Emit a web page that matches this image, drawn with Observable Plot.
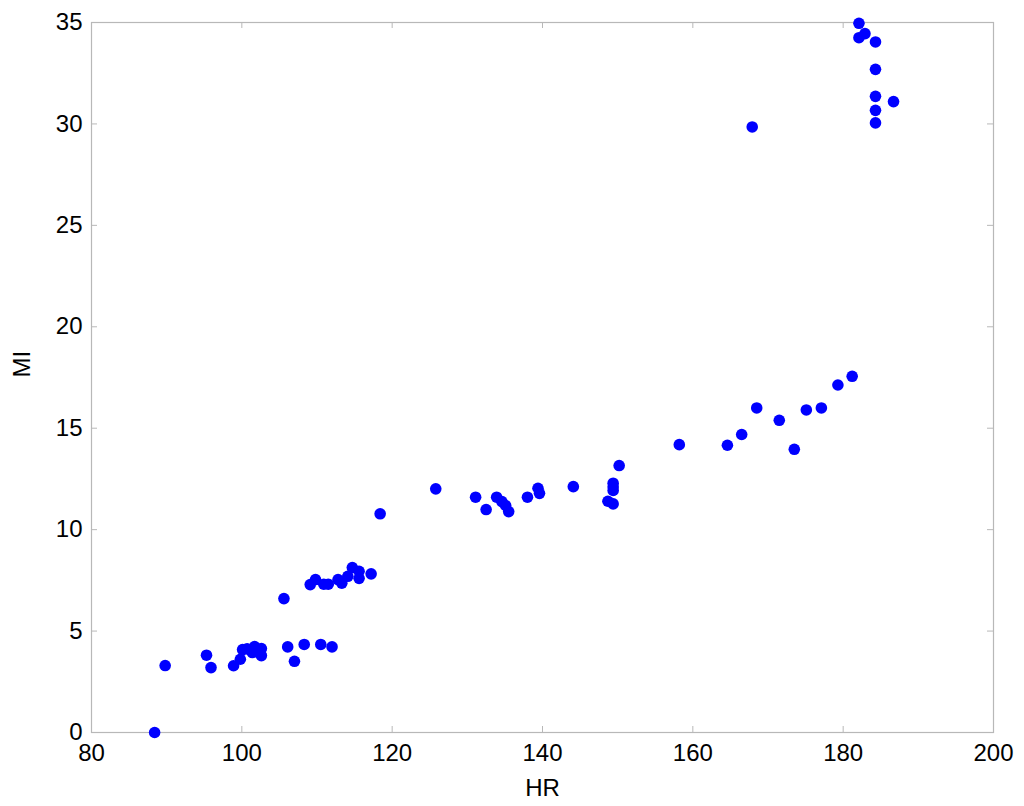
<!DOCTYPE html>
<html>
<head>
<meta charset="utf-8">
<script src="https://cdn.jsdelivr.net/npm/d3@7"></script>
<script src="https://cdn.jsdelivr.net/npm/@observablehq/plot@0.6"></script>
<style>
  html, body { margin: 0; padding: 0; background: #fff; }
  #chart { width: 1024px; height: 806px; }
</style>
</head>
<body>
<div id="chart"></div>
<script>
const hr = [
  88.4, 89.8, 95.3, 95.9, 98.9, 99.8, 100.1, 100.7, 101.7, 101.4, 102.0, 102.6, 102.6,
  106.1, 107.0, 108.3, 110.5, 112.0,
  105.6, 109.1, 109.8, 110.9, 111.5, 112.8, 113.3, 114.1, 114.7, 115.6, 115.6, 117.2,
  118.4, 125.8, 131.1, 132.5, 133.9, 134.6, 135.1, 135.5, 138.0, 139.4, 139.6, 144.1,
  148.7, 149.4, 149.4, 149.4, 149.4, 150.2,
  158.2, 164.6, 166.5, 168.5, 171.5, 173.5, 175.1, 177.1, 179.3, 181.2,
  167.9, 182.1, 182.1, 182.9, 184.3, 184.3, 184.3, 186.7, 184.3, 184.3
];
const mi = [
  0.0, 3.30, 3.81, 3.20, 3.29, 3.61, 4.09, 4.12, 4.24, 3.94, 4.05, 4.14, 3.79,
  4.22, 3.51, 4.34, 4.34, 4.22,
  6.60, 7.29, 7.54, 7.31, 7.31, 7.54, 7.36, 7.70, 8.13, 7.95, 7.60, 7.82,
  10.78, 12.01, 11.60, 10.99, 11.60, 11.38, 11.19, 10.89, 11.60, 12.04, 11.79, 12.12,
  11.40, 11.27, 12.29, 12.10, 11.93, 13.16,
  14.19, 14.16, 14.69, 16.00, 15.39, 13.96, 15.90, 16.00, 17.13, 17.56,
  29.85, 34.96, 34.25, 34.45, 34.04, 32.69, 31.36, 31.10, 30.67, 30.05
];
const xTicks = [80, 100, 120, 140, 160, 180, 200];
const yTicks = [0, 5, 10, 15, 20, 25, 30, 35];

const data = hr.map((h, i) => ({HR: h, MI: mi[i]}));
const gray = "#b8b8b8";

const chart = Plot.plot({
  width: 1024,
  height: 806,
  marginLeft: 91,
  marginRight: 31,
  marginTop: 22,
  marginBottom: 74,
  style: {fontFamily: "Liberation Sans, Arial, sans-serif", fontSize: "24px", color: "#000", background: "#fff"},
  x: {domain: [80, 200]},
  y: {domain: [0, 35]},
  marks: [
    Plot.frame({stroke: gray, strokeWidth: 1.2}),
    Plot.tickX(xTicks, {x: d => d, stroke: gray, insetTop: 704}),
    Plot.tickX(xTicks, {x: d => d, stroke: gray, insetBottom: 704}),
    Plot.tickY(yTicks, {y: d => d, stroke: gray, insetRight: 896}),
    Plot.tickY(yTicks, {y: d => d, stroke: gray, insetLeft: 896}),
    Plot.axisX(xTicks, {tickSize: 0, tickPadding: 11, fontSize: 24, label: null}),
    Plot.axisY(yTicks, {tickSize: 0, tickPadding: 9, fontSize: 24, label: null}),
    Plot.text(["HR"], {frameAnchor: "bottom", dy: 63, fontSize: 24}),
    Plot.text(["MI"], {frameAnchor: "left", dx: -69, rotate: -90, fontSize: 24}),
    Plot.dot(data, {x: "HR", y: "MI", r: 5.8, fill: "#0000ff", stroke: "none"})
  ]
});
document.getElementById("chart").appendChild(chart);
</script>
</body>
</html>
